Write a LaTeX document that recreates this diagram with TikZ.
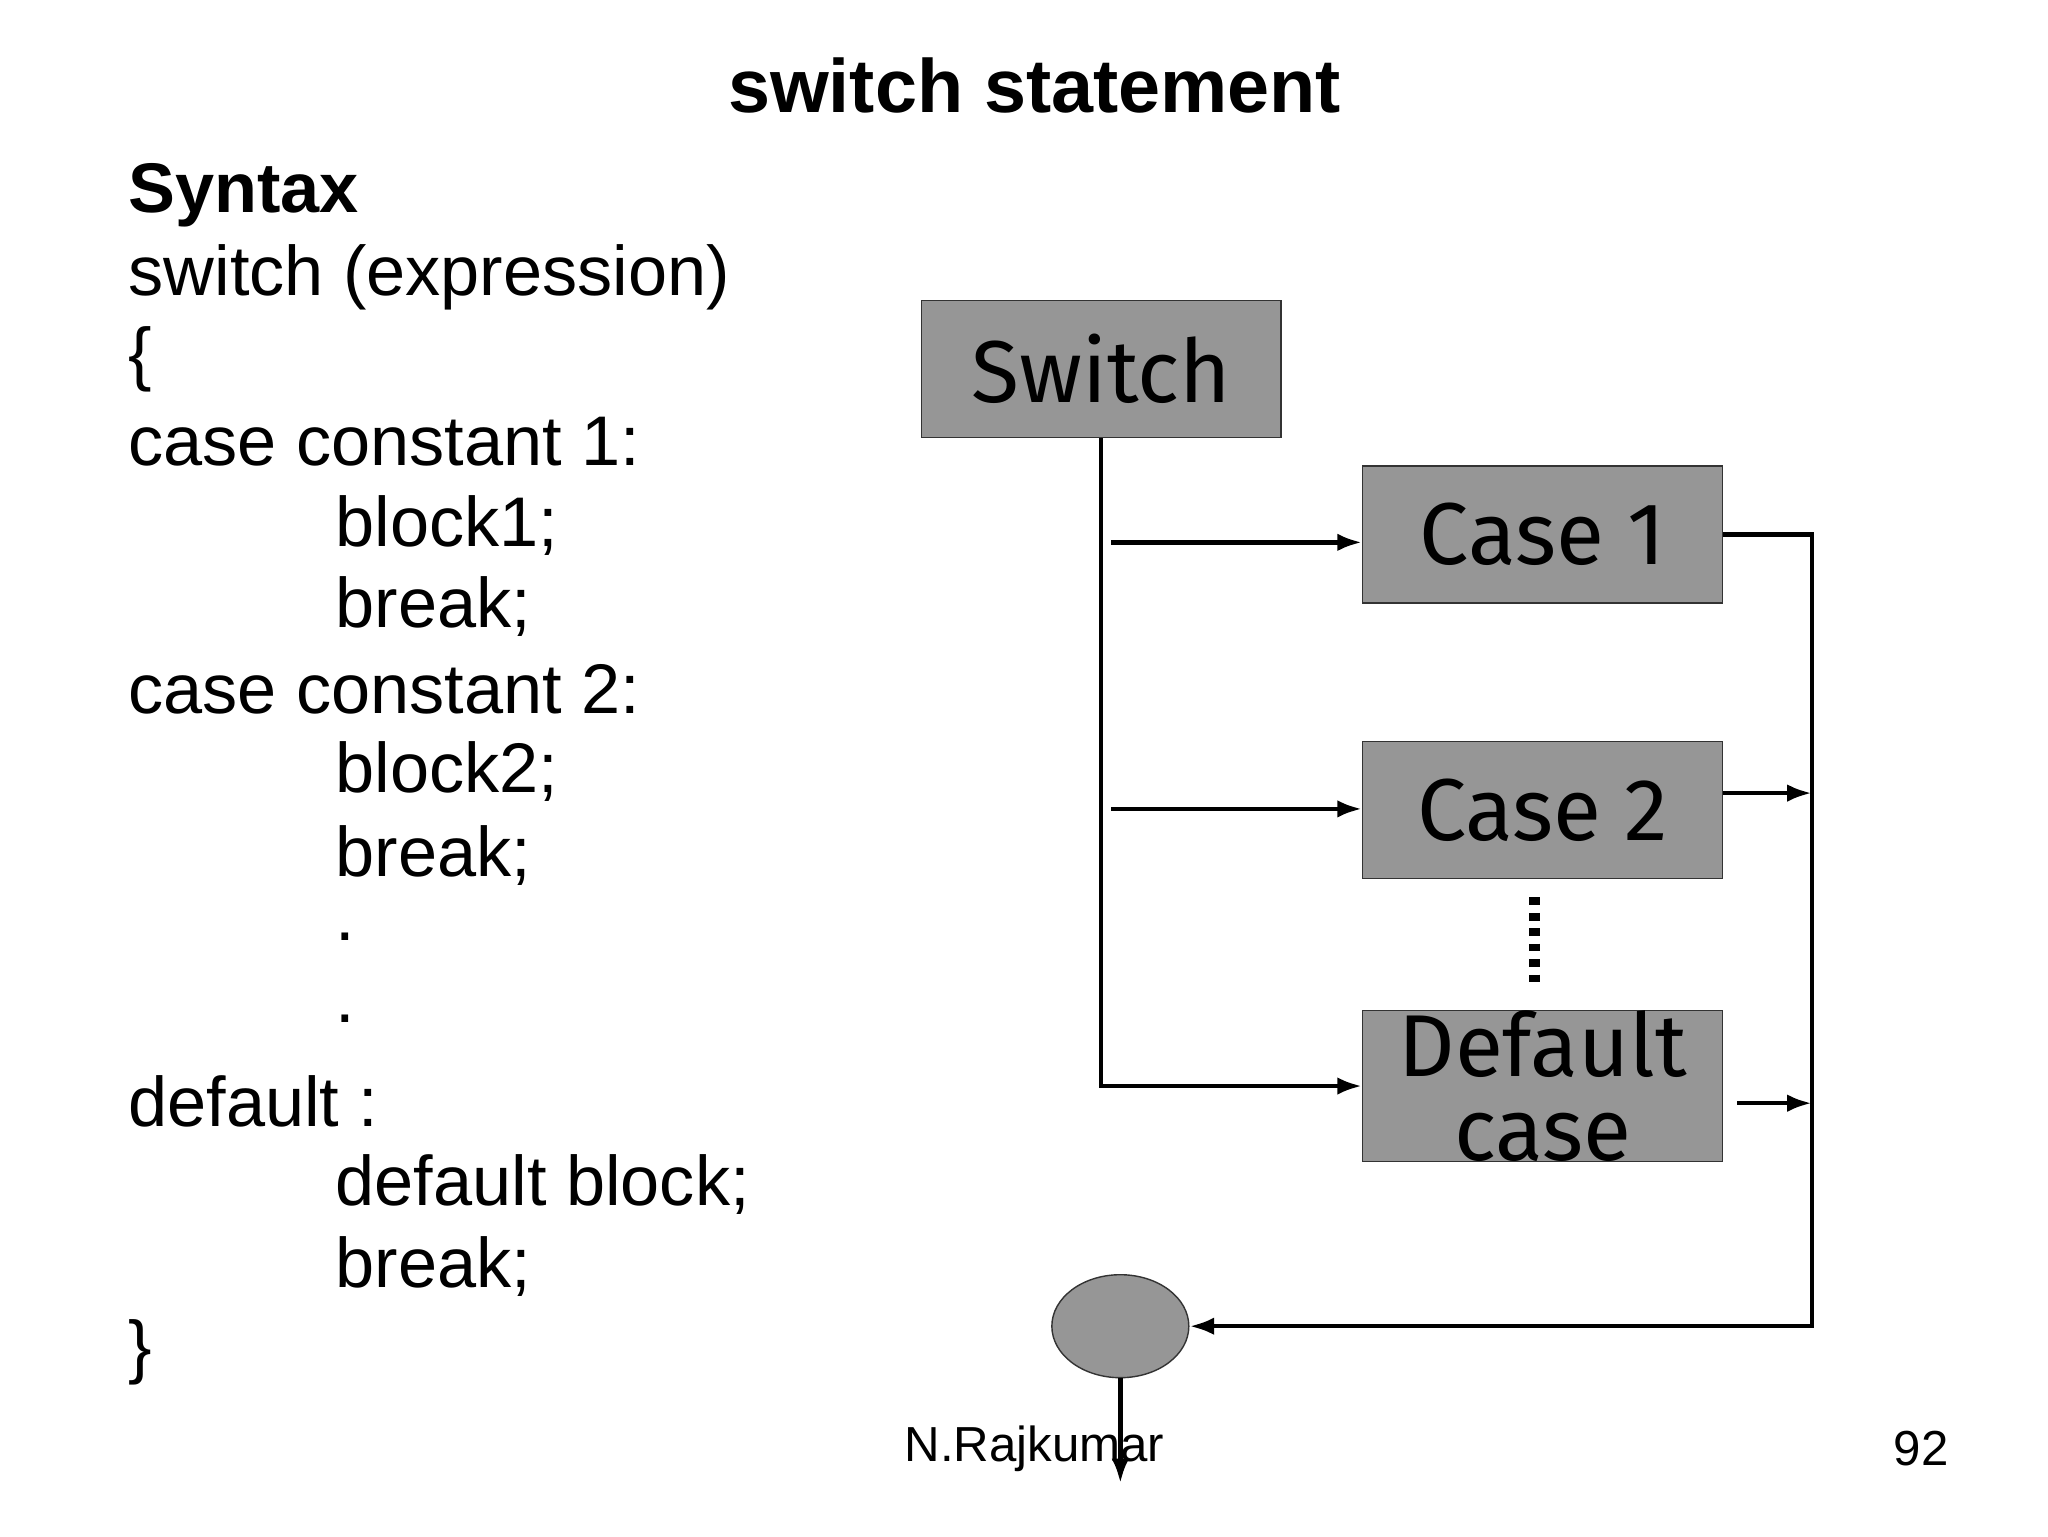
\documentclass[tikz,border=0pt]{standalone}
\usepackage{fontspec}
\setmainfont{Liberation Sans}
\newfontfamily\boxfont{Fira Sans}
\usetikzlibrary{arrows.meta,shapes.geometric}
\begin{document}
\begin{tikzpicture}[x=0.0132cm,y=-0.0132cm,
  box/.style={draw=black!80,fill=black!41,minimum width=3.6cm,minimum height=1.37cm,inner sep=0pt,font=\boxfont\fontsize{25}{24}\selectfont,align=center},
  ln/.style={line width=1.3pt},
  arr/.style={ln,-{Latex[length=7pt,width=5pt]}},
  code/.style={anchor=west,font=\fontsize{20}{24}\selectfont}]
\useasboundingbox (0,0) rectangle (1552,1164);
\node[font=\bfseries\fontsize{21.5}{26}\selectfont] (title) at (784,65) {switch statement};
\node[code,font=\bfseries\fontsize{20}{24}\selectfont] (t1) at (88,148) {Syntax};
\node[code] (t2) at (88,210) {switch (expression)};
\node[code] (t3) at (88,272) {\{};
\node[code] (t4) at (88,335) {case constant 1:};
\node[code] (t5) at (245,398) {block1;};
\node[code] (t6) at (245,460) {break;};
\node[code] (t7) at (88,522) {case constant 2:};
\node[code] (t8) at (245,585) {block2;};
\node[code] (t9) at (245,648) {break;};
\node[code] (t10) at (245,710) {.};
\node[code] (t11) at (245,772) {.};
\node[code] (t12) at (88,835) {default :};
\node[code] (t13) at (245,898) {default block;};
\node[code] (t14) at (245,960) {break;};
\node[code] (t15) at (88,1025) {\}};
\node[box] (sw) at (834.5,279.5) {Switch};
\node[box] (c1) at (1169,405) {Case 1};
\node[box] (c2) at (1169,614) {Case 2};
\node[box] (df) at (1169,823) {Default\\case};
\node[ellipse,draw=black!80,fill=black!41,minimum width=1.37cm,minimum height=1.03cm,inner sep=0pt] (end) at (849,1005) {};
\coordinate (a1) at (842,411);
\coordinate (a2) at (842,613);
\coordinate (r1) at (1373,405);
\coordinate (r2) at (1373,601);
\coordinate (r3) at (1373,836);
\coordinate (r4) at (1373,1005);
\coordinate (d1) at (1163,680);
\coordinate (d2) at (1163,750);
\coordinate (out) at (849,1124);
\draw[arr] (sw.south) |- (df.west);
\draw[arr] (a1) -- (a1 -| c1.west);
\draw[arr] (a2) -- (a2 -| c2.west);
\draw[arr] (c1.east |- r1) -- (r1) -- (r4) -- (end.east);
\draw[arr] (c2.east |- r2) -- (r2);
\draw[arr] ([xshift=4]df.east |- r3) -- (r3);
\draw[line width=3pt,dash pattern=on 2.2pt off 2.2pt] (d1) -- (d2);
\draw[arr] (end.south) -- (out);
\node[font=\fontsize{14}{16}\selectfont] (auth) at (784,1098) {N.Rajkumar};
\node[font=\fontsize{14}{16}\selectfont] (pg) at (1456,1098) {92};
\end{tikzpicture}
\end{document}
